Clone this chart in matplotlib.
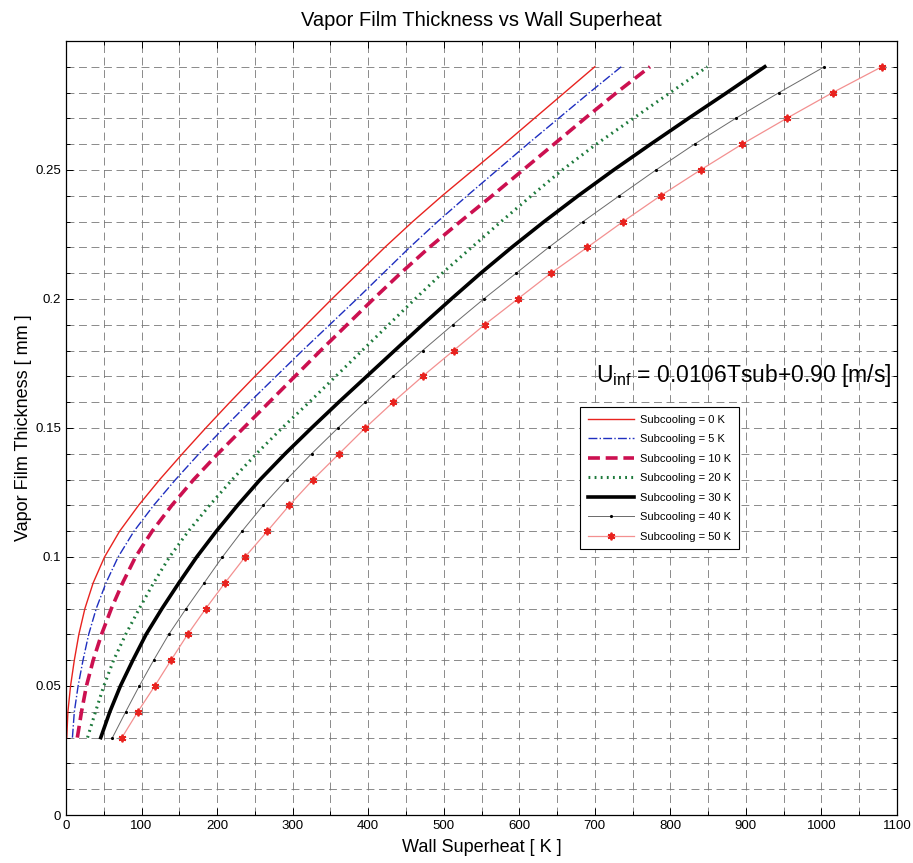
import matplotlib
matplotlib.use("Agg")
import matplotlib.pyplot as plt
from matplotlib.ticker import MultipleLocator

# ------------------------------
# DATA
# ------------------------------
thickness = [0.03, 0.04, 0.05, 0.06, 0.07, 0.08, 0.09, 0.10, 0.11, 0.12,
             0.13, 0.14, 0.15, 0.16, 0.17, 0.18, 0.19, 0.20, 0.21, 0.22,
             0.23, 0.24, 0.25, 0.26, 0.27, 0.28, 0.29]

sh_0K = [1, 2.5, 6, 11, 17, 25, 36, 51, 71, 96,
         124, 154, 185, 217, 250, 284, 318, 352, 387, 422,
         459, 498, 539, 580, 620, 660, 700]
sh_5K = [8.5, 11, 16, 22.5, 30, 40, 53, 69, 90, 116,
         145, 176, 209, 243, 278, 313, 349, 385, 420, 455,
         492, 531, 571, 611, 652, 693, 735]
sh_10K = [15, 20.5, 27, 36, 47, 60, 75, 92, 114, 140,
          169, 201, 235, 269, 303, 337, 372, 407, 443, 481,
          522, 564, 605, 646, 687, 729, 773]
sh_20K = [28.5, 39, 50, 63, 79, 97, 116, 137, 162, 190,
          220, 252, 286, 322, 357, 392, 427, 462, 498, 537,
          576, 616, 657, 702, 751, 800, 849]
sh_30K = [46, 58, 72, 88.5, 106, 127, 149.5, 173, 199, 227,
          257, 290, 325, 361, 398, 435, 472, 510, 549, 590,
          633, 678, 725, 774, 824, 875, 925]
sh_40K = [61.5, 79, 97, 116, 136, 159, 183, 207, 233, 261,
          292, 325, 360, 396, 433, 472, 512, 553, 596, 639,
          684.5, 732.5, 781, 832, 886.5, 944, 1004]
sh_50K = [74, 95, 117.5, 139, 161, 185, 210.5, 237, 266.5, 295.5,
          327, 361.5, 396, 433, 472, 513, 554, 598, 642, 690,
          737.5, 787, 840, 895, 954, 1015, 1080]

labels = ["Subcooling = 0 K", "Subcooling = 5 K", "Subcooling = 10 K",
          "Subcooling = 20 K", "Subcooling = 30 K", "Subcooling = 40 K",
          "Subcooling = 50 K"]

x_ticks = [0, 100, 200, 300, 400, 500, 600, 700, 800, 900, 1000, 1100]
y_ticks = [0, 0.05, 0.1, 0.15, 0.2, 0.25]
y_ticklabels = ["0", "0.05", "0.1", "0.15", "0.2", "0.25"]

# ------------------------------
# STYLE
# ------------------------------
plt.rcParams["font.family"] = ["Liberation Sans", "DejaVu Sans"]
plt.rcParams["mathtext.default"] = "regular"

fig = plt.figure(figsize=(9.13, 8.63), dpi=100)
ax = fig.add_axes([0.0723, 0.0556, 0.9102, 0.897])

ax.plot(sh_0K, thickness, color="#e8231f", lw=1.0, label=labels[0])
ax.plot(sh_5K, thickness, color="#1f2fc0", lw=1.0, ls="-.", label=labels[1])
ax.plot(sh_10K, thickness, color="#cc1050", lw=2.6, ls=(0, (3.3, 1.6)), label=labels[2])
ax.plot(sh_20K, thickness, color="#1e7a3c", lw=2.2, ls=(0, (0.6, 1.4)), label=labels[3])
ax.plot(sh_30K, thickness, color="black", lw=2.6, label=labels[4])
ax.plot(sh_40K, thickness, color="#6a6a6a", lw=0.7, marker=".", ms=2.5,
        mfc="black", mec="black", label=labels[5])
ax.plot(sh_50K, thickness, color="#f39090", lw=0.9, marker=(6, 2, 0), ms=5.5,
        mew=1.3, mfc="#e8231f", mec="#e8231f", label=labels[6])

# ------------------------------
# AXES
# ------------------------------
ax.set_xlim(0, 1100)
ax.set_ylim(0, 0.3)
ax.set_xticks(x_ticks)
ax.set_yticks(y_ticks)
ax.set_yticklabels(y_ticklabels)
ax.xaxis.set_minor_locator(MultipleLocator(50))
ax.yaxis.set_minor_locator(MultipleLocator(0.01))
ax.tick_params(which="both", direction="in", top=True, right=True,
               labelsize=9.5, width=0.7)
ax.tick_params(which="major", length=5)
ax.tick_params(which="minor", length=3)

ax.grid(which="both", color="#777777", ls=(0, (9.5, 5.5)), lw=0.6)
ax.set_axisbelow(True)
for sp in ax.spines.values():
    sp.set_linewidth(0.9)

ax.set_title("Vapor Film Thickness vs Wall Superheat", fontsize=14.5, pad=11)
ax.set_xlabel("Wall Superheat [ K ]", fontsize=13, labelpad=5)
ax.set_ylabel("Vapor Film Thickness [ mm ]", fontsize=13, labelpad=2)

ax.text(702, 0.168, r"U$_{inf}$ = 0.0106Tsub+0.90 [m/s]", fontsize=16.5)

leg = ax.legend(loc="upper left", bbox_to_anchor=(0.6185, 0.527),
                borderaxespad=0, fontsize=8, frameon=True, fancybox=False,
                framealpha=1, edgecolor="black", handlelength=4.2,
                borderpad=0.7, labelspacing=0.85, handletextpad=0.5)
leg.get_frame().set_linewidth(0.8)

fig.savefig("out.png", dpi=100, facecolor="white")
